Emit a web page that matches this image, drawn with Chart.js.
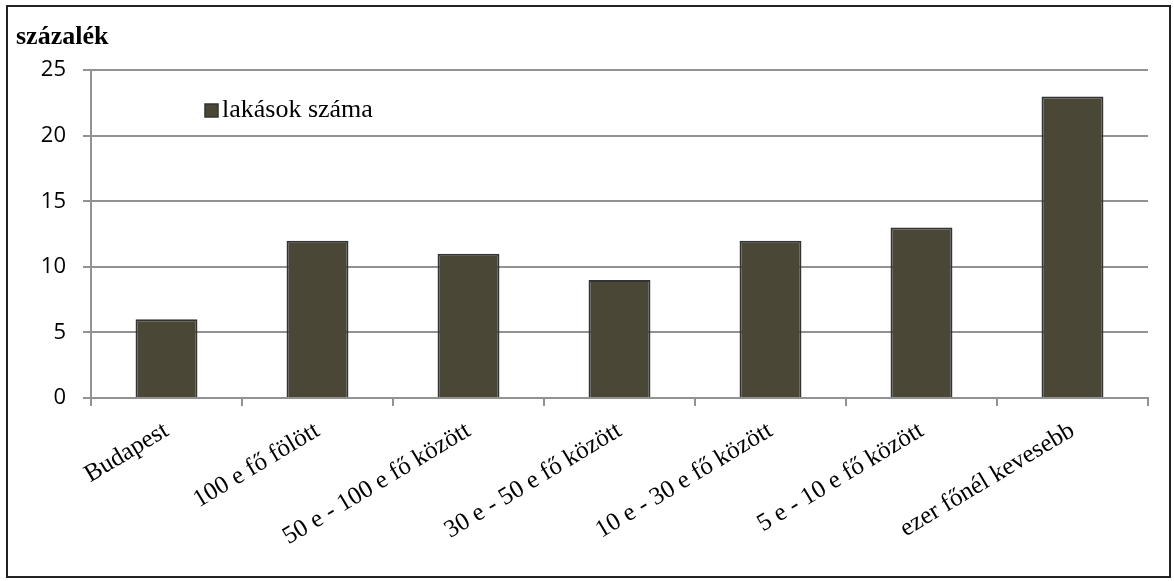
<!DOCTYPE html>
<html>
<head>
<meta charset="utf-8">
<script src="https://cdn.jsdelivr.net/npm/chart.js@4.4.0/dist/chart.umd.min.js"></script>
<style>
  html, body { margin: 0; padding: 0; background: #fff; }
  #wrap { width: 1174px; height: 581px; }
</style>
</head>
<body>
<div id="wrap"><canvas id="chart" width="1174" height="581"></canvas></div>
<script>
// Data
const categories = ['Budapest', '100 e fő fölött', '50 e - 100 e fő között', '30 e - 50 e fő között',
  '10 e - 30 e fő között', '5 e - 10 e fő között', 'ezer főnél kevesebb'];
const lakasokSzama = [6, 12, 11, 9, 12, 13, 23];
const yTicks = [0, 5, 10, 15, 20, 25];

const gridColor = '#929292';

// outer frame + legend drawn inside plot
const framePlugin = {
  id: 'frame',
  afterDraw(chart) {
    const ctx = chart.ctx;
    ctx.save();
    ctx.strokeStyle = '#222';
    ctx.lineWidth = 2;
    ctx.strokeRect(7, 6, 1163, 571);
    // legend
    const ds = chart.data.datasets[0];
    ctx.fillStyle = ds.backgroundColor;
    ctx.strokeStyle = '#333';
    ctx.lineWidth = 1.5;
    ctx.fillRect(205, 104, 13, 13);
    ctx.strokeRect(205, 104, 13, 13);
    ctx.fillStyle = '#000';
    ctx.font = '26px "Liberation Serif", serif';
    ctx.textBaseline = 'middle';
    ctx.fillText(ds.label, 222, 110);
    ctx.restore();
  }
};

const ctx = document.getElementById('chart').getContext('2d');
new Chart(ctx, {
  type: 'bar',
  data: {
    labels: categories,
    datasets: [{
      label: 'lakások száma',
      data: lakasokSzama,
      backgroundColor: '#4a4737',
      borderColor: '#333333',
      borderWidth: 2,
      barPercentage: 0.41,
      categoryPercentage: 1
    }]
  },
  options: {
    responsive: false,
    animation: false,
    layout: { padding: { left: 16, right: 26, top: 0, bottom: 0 } },
    scales: {
      x: {
        grid: { drawOnChartArea: false, drawTicks: true, tickLength: 8, color: gridColor, lineWidth: 2, offset: true },
        border: { color: gridColor, width: 2 },
        ticks: {
          color: '#000',
          font: { family: '"Liberation Serif", serif', size: 25 },
          minRotation: 31, maxRotation: 31,
          autoSkip: false,
          padding: 10
        },
        afterFit: scale => { scale.height = 183; }
      },
      y: {
        min: 0,
        max: 25,
        afterBuildTicks: scale => { scale.ticks = yTicks.map(v => ({ value: v })); },
        grid: { color: gridColor, lineWidth: 2, tickLength: 8 },
        border: { color: gridColor, width: 2 },
        ticks: {
          color: '#000',
          font: { family: '"Open Sans", sans-serif', size: 22 },
          padding: 17
        },
        afterFit: scale => { scale.width = 75; }
      }
    },
    plugins: {
      legend: { display: false },
      tooltip: { enabled: false },
      title: {
        display: true,
        text: 'százalék',
        align: 'start',
        color: '#000',
        font: { family: '"Liberation Serif", serif', size: 26, weight: 'bold', lineHeight: 1.2 },
        padding: { top: 22, bottom: 17 }
      }
    }
  },
  plugins: [framePlugin]
});
</script>
</body>
</html>
